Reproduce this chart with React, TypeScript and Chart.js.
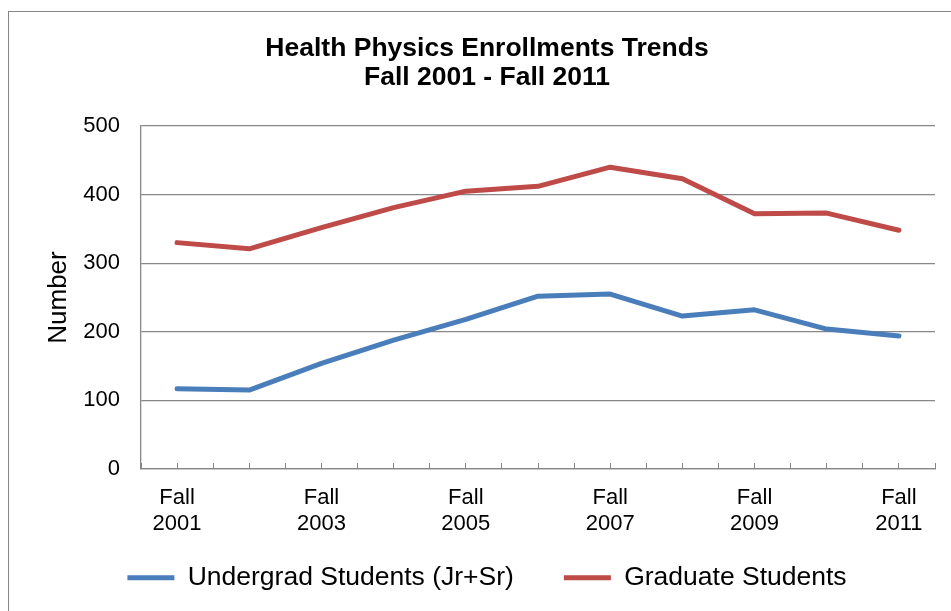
import React, { useEffect, useRef } from 'react';
import { Chart, registerables } from 'chart.js';

Chart.register(...registerables);

const years = ['2001', '2002', '2003', '2004', '2005', '2006', '2007', '2008', '2009', '2010', '2011'];
const undergrad = [117, 115, 154, 188, 218, 252, 255, 223, 232, 204, 194];
const graduate = [330, 321, 352, 381, 405, 412, 440, 423, 372, 373, 348];
const yTickValues = [0, 100, 200, 300, 400, 500];
const titleLines = ['Health Physics Enrollments Trends', 'Fall 2001 - Fall 2011'];
const seriesNames = ['Undergrad Students (Jr+Sr)', 'Graduate Students'];
const yAxisTitle = 'Number';
const tickPrefix = 'Fall';

const FONT = "'Liberation Sans', Arial, sans-serif";
const GRID = '#878787';
const BLUE = '#4A7EBB';
const RED = '#BE4B48';

const outerBorder = {
  id: 'outerBorder',
  beforeDraw(chart: any) {
    const ctx = chart.ctx;
    ctx.save();
    ctx.strokeStyle = GRID;
    ctx.lineWidth = 1;
    ctx.strokeRect(8.5, 11.5, 2000, 2000);
    ctx.restore();
  },
};

// pull the legend row up closer to the axis labels (its label padding is used for item spacing)
const legendShift = {
  id: 'legendShift',
  afterLayout(chart: any) {
    const lg = chart.legend;
    if (lg) {
      lg.top -= 24.5;
      lg.bottom -= 24.5;
    }
  },
};

export default function App() {
  const ref = useRef<HTMLCanvasElement>(null);

  useEffect(() => {
    document.body.style.margin = '0';
    document.body.style.overflow = 'hidden';
    const xTickValues: number[] = [];
    years.forEach((_, i) => {
      xTickValues.push(i - 0.5, i);
    });
    xTickValues.push(years.length - 0.5);

    const chart = new Chart(ref.current as HTMLCanvasElement, {
      type: 'line',
      data: {
        datasets: [
          {
            label: seriesNames[0],
            data: years.map((_, i) => ({ x: i, y: undergrad[i] })),
            borderColor: BLUE,
            backgroundColor: BLUE,
            borderWidth: 5,
            pointRadius: 0,
            borderCapStyle: 'round',
            borderJoinStyle: 'round',
            tension: 0,
          },
          {
            label: seriesNames[1],
            data: years.map((_, i) => ({ x: i, y: graduate[i] })),
            borderColor: RED,
            backgroundColor: RED,
            borderWidth: 5,
            pointRadius: 0,
            borderCapStyle: 'round',
            borderJoinStyle: 'round',
            tension: 0,
          },
        ],
      },
      options: {
        responsive: false,
        animation: false,
        layout: { padding: { left: 39, right: 16, top: 0, bottom: -14.5 } },
        plugins: {
          title: {
            display: true,
            text: titleLines,
            color: '#000',
            font: { family: FONT, size: 26.5, weight: 'bold', lineHeight: 29 / 26.5 },
            padding: { top: 34.4, bottom: 33.6 },
          },
          legend: {
            position: 'bottom',
            labels: {
              color: '#000',
              font: { family: FONT, size: 26.5 },
              boxWidth: 47,
              boxHeight: 5,
              padding: 50,
              generateLabels: (c: any) =>
                Chart.defaults.plugins.legend.labels.generateLabels(c).map((l: any) => ({ ...l, lineWidth: 0 })),
            },
          },
          tooltip: { enabled: false },
        },
        scales: {
          x: {
            type: 'linear',
            min: -0.5,
            max: years.length - 0.5,
            afterBuildTicks: (s: any) => {
              s.ticks = xTickValues.map((v) => ({ value: v }));
            },
            afterFit: (s: any) => {
              s.height = 70;
              s.paddingLeft = 0;
              s.paddingRight = 0;
            },
            ticks: {
              autoSkip: false,
              maxRotation: 0,
              minRotation: 0,
              padding: 22.3,
              color: '#000',
              font: { family: FONT, size: 22, lineHeight: 26 / 22 },
              callback: (v: any) => {
                const i = Number(v);
                return Number.isInteger(i) && i % 2 === 0 ? [tickPrefix, years[i]] : '';
              },
            },
            grid: { drawOnChartArea: false, drawTicks: true, tickLength: -6, color: GRID, lineWidth: 1 },
            border: { display: true, color: GRID, width: 1.3 },
          },
          y: {
            min: 0,
            max: 500,
            afterBuildTicks: (s: any) => {
              s.ticks = yTickValues.map((v) => ({ value: v }));
            },
            afterFit: (s: any) => {
              s.width = 102;
            },
            ticks: {
              padding: 21,
              color: '#000',
              font: { family: FONT, size: 22 },
            },
            grid: { color: GRID, lineWidth: 1.2, drawTicks: false },
            border: { display: true, color: GRID, width: 1.3 },
            title: {
              display: true,
              text: yAxisTitle,
              color: '#000',
              font: { family: FONT, size: 26 },
              padding: { top: 4.4, bottom: 0 },
            },
          },
        },
      } as any,
      plugins: [outerBorder, legendShift],
    });
    return () => chart.destroy();
  }, []);

  return <canvas ref={ref} width={951} height={611} style={{ display: 'block' }} />;
}
